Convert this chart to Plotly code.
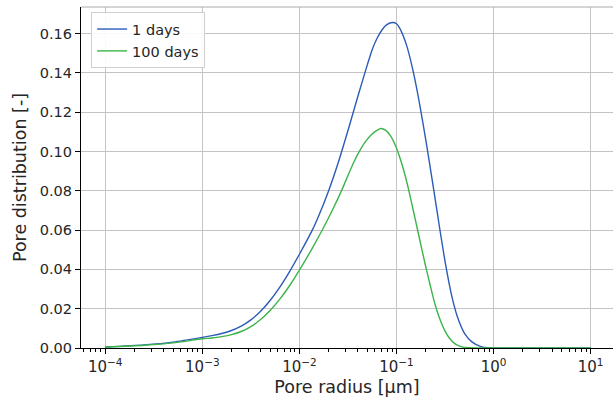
import plotly.graph_objects as go

# log10 of pore radius [µm] and pore distribution values
blue_log_r = [-4.0, -3.6, -3.3, -3.0, -2.9, -2.8, -2.7, -2.6, -2.5, -2.4, -2.3, -2.2, -2.1,
              -2.0, -1.865, -1.8, -1.7, -1.6, -1.5, -1.4, -1.3, -1.25, -1.2, -1.15, -1.1,
              -1.04, -1.0, -0.97, -0.90, -0.83, -0.76, -0.69, -0.62, -0.555, -0.49, -0.43,
              -0.37, -0.30, -0.22, -0.13, -0.05, 0.2, 0.6, 1.0]
blue_vals = [0.0005, 0.0016, 0.0030, 0.0054, 0.0063, 0.0074, 0.0089, 0.0111, 0.0143, 0.0187,
             0.0243, 0.0311, 0.0390, 0.0477, 0.0602, 0.0674, 0.0799, 0.0944, 0.1107, 0.1277,
             0.1442, 0.1519, 0.1576, 0.1618, 0.1645,
             0.1656, 0.1650, 0.1630, 0.1546, 0.1411, 0.1236, 0.1033, 0.0816, 0.0608, 0.0413,
             0.0263, 0.0155, 0.0075, 0.0030, 0.0007, 0.0001, 0.0, 0.0, 0.0]

green_log_r = [-4.0, -3.6, -3.3, -3.0, -2.9, -2.8, -2.7, -2.6, -2.5, -2.4, -2.3, -2.2, -2.1,
               -2.0, -1.88, -1.762, -1.66, -1.565, -1.50, -1.44, -1.38, -1.32, -1.26, -1.21,
               -1.161, -1.11, -1.06, -1.01, -0.97, -0.92, -0.876, -0.83, -0.78, -0.74, -0.70,
               -0.65, -0.605, -0.55, -0.50, -0.45, -0.40, -0.33, -0.25, 0.0, 0.5, 1.0]
green_vals = [0.0004, 0.0014, 0.0026, 0.0047, 0.0051, 0.0058, 0.0068, 0.0084, 0.0109, 0.0145,
              0.0192, 0.0250, 0.0318, 0.0396, 0.0497, 0.0603, 0.0702, 0.0802, 0.0878, 0.0945,
              0.1003, 0.1050, 0.1085, 0.1105, 0.1117, 0.1107, 0.1078, 0.1029, 0.0976, 0.0894,
              0.0807, 0.0706, 0.0594, 0.0504, 0.0416, 0.0313, 0.0225, 0.0142, 0.0086, 0.0047,
              0.0022, 0.0006, 0.0001, 0.0, 0.0, 0.0]

series_names = ["1 days", "100 days"]

x_tick_vals = [1e-4, 1e-3, 1e-2, 1e-1, 1e0, 1e1]
x_tick_text = ["10<sup>−4</sup>", "10<sup>−3</sup>", "10<sup>−2</sup>",
               "10<sup>−1</sup>", "10<sup>0</sup>", "10<sup>1</sup>"]
y_tick_vals = [0.0, 0.02, 0.04, 0.06, 0.08, 0.10, 0.12, 0.14, 0.16]
y_tick_text = ["0.00", "0.02", "0.04", "0.06", "0.08", "0.10", "0.12", "0.14", "0.16"]

minor_vals = [m * 10.0 ** e for e in range(-5, 2) for m in range(2, 10)]

BLUE = "#2b5cb8"
GREEN = "#3cb449"
FONT = "DejaVu Sans"
TXT = "#262626"

fig = go.Figure()
fig.add_trace(go.Scatter(x=[10 ** v for v in blue_log_r], y=blue_vals, mode="lines",
                         name=series_names[0],
                         line=dict(color=BLUE, width=1.4, shape="spline", smoothing=0.6)))
fig.add_trace(go.Scatter(x=[10 ** v for v in green_log_r], y=green_vals, mode="lines",
                         name=series_names[1],
                         line=dict(color=GREEN, width=1.4, shape="spline", smoothing=0.6)))

fig.update_layout(
    width=613, height=398,
    margin=dict(l=81, r=0, t=7, b=50),
    paper_bgcolor="white", plot_bgcolor="white",
    font=dict(family=FONT, size=14.5, color=TXT),
    showlegend=True,
    legend=dict(x=0.019, y=0.985, xanchor="left", yanchor="top",
                bgcolor="rgba(255,255,255,0.9)", bordercolor="#d0d0d0", borderwidth=1,
                font=dict(family=FONT, size=14.5, color=TXT),
                itemwidth=30, tracegroupgap=0),
    xaxis=dict(type="log", range=[-4.25, 1.23],
               tickvals=x_tick_vals, ticktext=x_tick_text,
               ticks="outside", ticklen=5, tickwidth=1, tickcolor="black",
               showline=True, linecolor="black", linewidth=1.2,
               showgrid=True, gridcolor="#c4c4c4", gridwidth=1,
               zeroline=False,
               minor=dict(tickvals=minor_vals, ticks="outside", ticklen=2.5,
                          tickcolor="black", tickwidth=0.8, showgrid=False),
               tickfont=dict(family=FONT, size=15, color=TXT),
               title=dict(text="Pore radius [μm]", font=dict(family=FONT, size=17.5, color=TXT),
                          standoff=5)),
    yaxis=dict(range=[0, 0.1735],
               tickvals=y_tick_vals, ticktext=y_tick_text,
               ticks="outside", ticklen=5, tickwidth=1, tickcolor="black",
               showline=True, linecolor="black", linewidth=1.2,
               showgrid=True, gridcolor="#c4c4c4", gridwidth=1,
               zeroline=False,
               tickfont=dict(family=FONT, size=14.5, color=TXT),
               title=dict(text="Pore distribution [-]", font=dict(family=FONT, size=17.5, color=TXT),
                          standoff=8)),
)
fig.add_shape(type="line", xref="paper", yref="paper", x0=0, x1=1, y0=1, y1=1,
              line=dict(color="#aaaaaa", width=1))

fig.write_html("out.html")
